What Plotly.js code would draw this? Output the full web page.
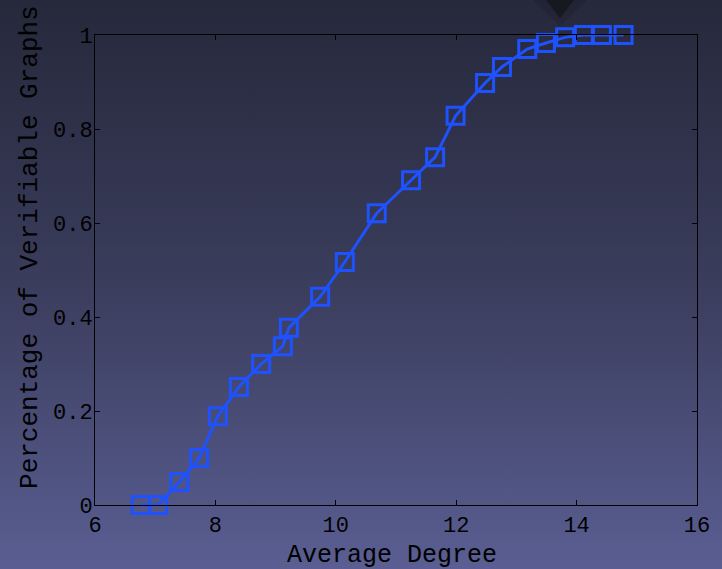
<!DOCTYPE html>
<html>
<head>
<meta charset="utf-8">
<script src="https://cdn.plot.ly/plotly-3.0.1.min.js"></script>
<style>
html,body{margin:0;padding:0;width:722px;height:569px;overflow:hidden;}
body{background:linear-gradient(to bottom,#26283b 0%,#3a3d5c 50%,#5a5e92 100%);position:relative;}
#deco{position:absolute;left:530px;top:0;width:60px;height:30px;}
#chart{position:absolute;left:0;top:0;width:722px;height:569px;}
</style>
</head>
<body>
<svg id="deco" viewBox="0 0 60 30">
  <polygon points="3,0 57,0 30,26" fill="rgba(30,30,40,0.35)"/>
  <polygon points="16,0 44,0 30,18" fill="rgba(20,20,25,0.75)"/>
</svg>
<div id="chart"></div>
<script>
const averageDegree = [6.76, 7.05, 7.40, 7.73, 8.04, 8.39, 8.76, 9.12, 9.22, 9.74, 10.15, 10.68, 11.25, 11.65, 11.99, 12.48, 12.76, 13.18, 13.49, 13.81, 14.12, 14.42, 14.78];
const verifiable = [0, 0, 0.049, 0.10, 0.189, 0.251, 0.300, 0.338, 0.377, 0.443, 0.517, 0.621, 0.691, 0.740, 0.828, 0.898, 0.932, 0.970, 0.983, 0.995, 1.0, 1.0, 1.0];
const xTitle = 'Average Degree';
const yTitle = 'Percentage of Verifiable Graphs';

const mono = 'Liberation Mono, Courier New, monospace';
const trace = {
  x: averageDegree, y: verifiable, type: 'scatter', mode: 'lines+markers',
  line: {color: '#1f52ff', width: 3},
  marker: {symbol: 'square-open', size: 17, color: '#1f52ff', line: {width: 3, color: '#1f52ff'}},
  cliponaxis: false, hoverinfo: 'none'
};
const axisCommon = {
  showline: true, linecolor: '#000', linewidth: 1, mirror: 'ticks',
  ticks: 'inside', ticklen: 5, tickcolor: '#000', tickwidth: 1,
  showgrid: false, zeroline: false,
  tickfont: {family: mono, size: 22, color: '#000'}
};
const layout = {
  width: 722, height: 569,
  margin: {l: 95, r: 25, t: 35, b: 64},
  paper_bgcolor: 'rgba(0,0,0,0)', plot_bgcolor: 'rgba(0,0,0,0)',
  showlegend: false,
  xaxis: Object.assign({}, axisCommon, {range: [6, 16], dtick: 2, tick0: 6, ticklabelstandoff: 0}),
  yaxis: Object.assign({}, axisCommon, {range: [0, 1], dtick: 0.2, tick0: 0, ticklabelstandoff: -3}),
  annotations: [
    {text: xTitle, xref: 'paper', yref: 'paper', x: 0.494, y: 0, yshift: -50, showarrow: false,
     font: {family: mono, size: 25, color: '#000'}, xanchor: 'center', yanchor: 'middle'},
    {text: yTitle, xref: 'paper', yref: 'paper', x: 0, xshift: -65, y: 0.549, textangle: -90, showarrow: false,
     font: {family: mono, size: 26, color: '#000'}, xanchor: 'center', yanchor: 'middle'}
  ]
};
Plotly.newPlot('chart', [trace], layout, {displayModeBar: false, staticPlot: true});
</script>
</body>
</html>
